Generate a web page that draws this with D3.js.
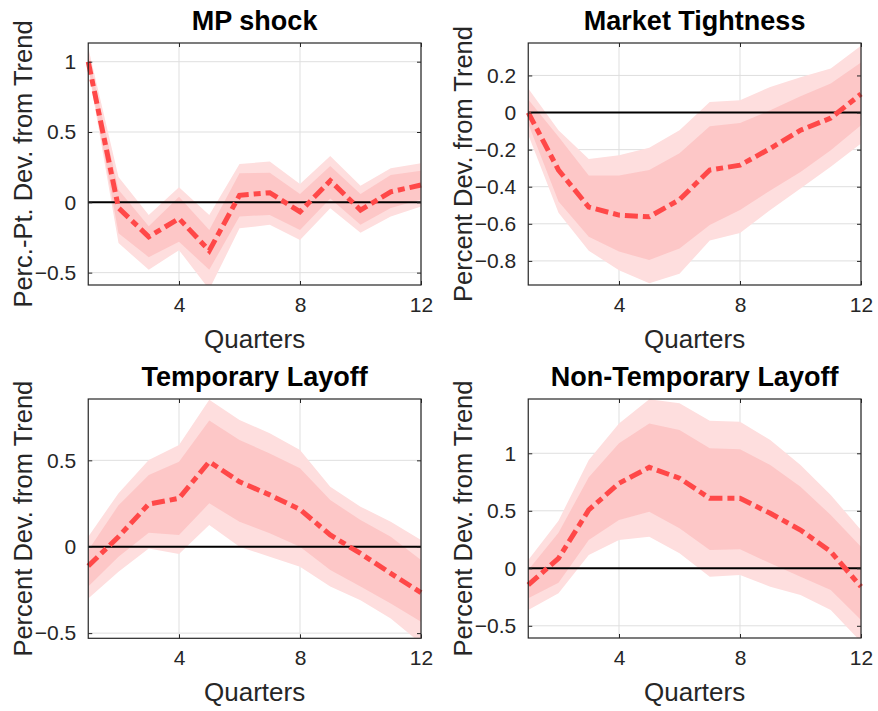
<!DOCTYPE html>
<html>
<head>
<meta charset="utf-8">
<script src="https://cdn.jsdelivr.net/npm/d3@7"></script>
<style>
  body { margin: 0; background: #fff; }
  text { font-family: "Liberation Sans", Arial, sans-serif; }
</style>
</head>
<body>
<svg id="fig" width="878" height="711"></svg>
<script>
// quarters after the shock
const quarters = [1, 2, 3, 4, 5, 6, 7, 8, 9, 10, 11, 12];
const xTicks = [4, 8, 12];

// MP shock
const mpMedian = [1.0, -0.04, -0.245, -0.115, -0.344, 0.05, 0.068, -0.067, 0.154, -0.055, 0.075, 0.123];
const mpHi90 = [1.1, 0.18, -0.09, 0.107, -0.09, 0.272, 0.29, 0.13, 0.33, 0.118, 0.242, 0.277];
const mpHi68 = [1.05, 0.09, -0.17, 0.04, -0.197, 0.206, 0.21, 0.06, 0.258, 0.059, 0.194, 0.225];
const mpLo68 = [0.97, -0.22, -0.39, -0.28, -0.48, -0.10, -0.09, -0.197, 0.028, -0.16, -0.04, 0.02];
const mpLo90 = [0.95, -0.29, -0.48, -0.34, -0.62, -0.185, -0.16, -0.268, -0.043, -0.216, -0.10, -0.03];

// Market Tightness
const mtMedian = [0.0, -0.31, -0.51, -0.553, -0.562, -0.47, -0.31, -0.284, -0.194, -0.095, -0.03, 0.10];
const mtHi90 = [0.13, -0.095, -0.25, -0.23, -0.19, -0.095, 0.057, 0.066, 0.138, 0.19, 0.237, 0.36];
const mtHi68 = [0.07, -0.13, -0.34, -0.34, -0.31, -0.22, -0.074, -0.056, 0.012, 0.088, 0.156, 0.27];
const mtLo68 = [-0.06, -0.48, -0.67, -0.75, -0.795, -0.733, -0.607, -0.526, -0.42, -0.32, -0.203, -0.068];
const mtLo90 = [-0.12, -0.54, -0.745, -0.85, -0.92, -0.87, -0.69, -0.65, -0.526, -0.41, -0.293, -0.167];

// Temporary Layoff
const tlMedian = [-0.112, 0.058, 0.247, 0.28, 0.492, 0.376, 0.30, 0.216, 0.068, -0.039, -0.154, -0.266];
const tlHi90 = [0.058, 0.31, 0.502, 0.589, 0.85, 0.734, 0.657, 0.56, 0.347, 0.232, 0.145, 0.039];
const tlHi68 = [-0.02, 0.24, 0.415, 0.492, 0.73, 0.618, 0.54, 0.454, 0.27, 0.155, 0.058, -0.077];
const tlLo68 = [-0.23, -0.058, 0.081, 0.068, 0.251, 0.145, 0.078, 0.0, -0.135, -0.23, -0.328, -0.434];
const tlLo90 = [-0.30, -0.145, -0.01, -0.042, 0.126, 0.0, -0.058, -0.116, -0.23, -0.31, -0.415, -0.56];

// Non-Temporary Layoff
const ntMedian = [-0.145, 0.087, 0.507, 0.739, 0.878, 0.783, 0.609, 0.609, 0.478, 0.333, 0.145, -0.16];
const ntHi90 = [0.072, 0.414, 0.942, 1.26, 1.47, 1.435, 1.283, 1.275, 1.116, 0.898, 0.637, 0.333];
const ntHi68 = [-0.015, 0.31, 0.791, 1.087, 1.26, 1.203, 1.043, 1.035, 0.898, 0.71, 0.463, 0.188];
const ntLo68 = [-0.26, -0.125, 0.246, 0.42, 0.492, 0.348, 0.159, 0.165, 0.043, -0.073, -0.189, -0.45];
const ntLo90 = [-0.362, -0.217, 0.116, 0.246, 0.275, 0.13, -0.073, -0.058, -0.16, -0.232, -0.363, -0.64];

const panels = [
  { title: "MP shock", ylabel: "Perc.-Pt. Dev. from Trend", med: mpMedian, hi90: mpHi90, hi68: mpHi68, lo68: mpLo68, lo90: mpLo90,
    ydom: [-0.588, 1.133], yticks: [-0.5, 0, 0.5, 1], box: [88.25, 43, 421, 285] },
  { title: "Market Tightness", ylabel: "Percent Dev. from Trend", med: mtMedian, hi90: mtHi90, hi68: mtHi68, lo68: mtLo68, lo90: mtLo90,
    ydom: [-0.93, 0.375], yticks: [-0.8, -0.6, -0.4, -0.2, 0, 0.2], box: [528.25, 43, 861, 285] },
  { title: "Temporary Layoff", ylabel: "Percent Dev. from Trend", med: tlMedian, hi90: tlHi90, hi68: tlHi68, lo68: tlLo68, lo90: tlLo90,
    ydom: [-0.53, 0.855], yticks: [-0.5, 0, 0.5], box: [88.25, 399, 421, 638.3] },
  { title: "Non-Temporary Layoff", ylabel: "Percent Dev. from Trend", med: ntMedian, hi90: ntHi90, hi68: ntHi68, lo68: ntLo68, lo90: ntLo90,
    ydom: [-0.606, 1.472], yticks: [-0.5, 0, 0.5, 1], box: [528.25, 399, 861, 638] }
];

const svg = d3.select("#fig");
const axisColor = "#262626";

panels.forEach((p, i) => {
  const [x0, y0, x1, y1] = p.box;
  const x = d3.scaleLinear().domain([1, 12]).range([x0, x1]);
  const y = d3.scaleLinear().domain(p.ydom).range([y1, y0]);
  const g = svg.append("g");

  g.append("clipPath").attr("id", "clip" + i)
    .append("rect").attr("x", x0).attr("y", y0).attr("width", x1 - x0).attr("height", y1 - y0);

  // grid
  g.selectAll(".gx").data(xTicks).join("line")
    .attr("x1", d => x(d)).attr("x2", d => x(d)).attr("y1", y0).attr("y2", y1)
    .attr("stroke", "#dfdfdf").attr("stroke-width", 1);
  g.selectAll(".gy").data(p.yticks).join("line")
    .attr("x1", x0).attr("x2", x1).attr("y1", d => y(d)).attr("y2", d => y(d))
    .attr("stroke", "#dfdfdf").attr("stroke-width", 1);

  const area = (lo, hi) => d3.area()
    .x((d, k) => x(quarters[k]))
    .y0((d, k) => y(lo[k]))
    .y1((d, k) => y(hi[k]));

  const bands = g.append("g").attr("clip-path", `url(#clip${i})`);
  bands.append("path").datum(quarters).attr("d", area(p.lo90, p.hi90)).attr("fill", "#fedede");
  bands.append("path").datum(quarters).attr("d", area(p.lo68, p.hi68)).attr("fill", "#fdc7c7");

  // zero line
  g.append("line").attr("x1", x0).attr("x2", x1).attr("y1", y(0)).attr("y2", y(0))
    .attr("stroke", "#000").attr("stroke-width", 2);

  // median response
  g.append("path").datum(p.med)
    .attr("d", d3.line().x((d, k) => x(quarters[k])).y(d => y(d)))
    .attr("fill", "none").attr("stroke", "#ff4848").attr("stroke-width", 5)
    .attr("stroke-dasharray", "13,5,7,5");

  // box and inner ticks
  g.append("rect").attr("x", x0).attr("y", y0).attr("width", x1 - x0).attr("height", y1 - y0)
    .attr("fill", "none").attr("stroke", axisColor).attr("stroke-width", 1.2);

  const xa = g.append("g").attr("transform", `translate(0,${y1})`)
    .call(d3.axisBottom(x).tickValues(xTicks).tickSizeInner(-4).tickSizeOuter(0).tickPadding(12));
  const ya = g.append("g").attr("transform", `translate(${x0},0)`)
    .call(d3.axisLeft(y).tickValues(p.yticks).tickSizeInner(-4).tickSizeOuter(0).tickPadding(12)
      .tickFormat(d => d3.format("")(Math.round(d * 10) / 10)));
  g.append("g").attr("transform", `translate(${x1},0)`)
    .call(d3.axisRight(y).tickValues(p.yticks).tickSizeInner(-4).tickSizeOuter(0).tickFormat(""));
  g.append("g").attr("transform", `translate(0,${y0})`)
    .call(d3.axisTop(x).tickValues(xTicks).tickSizeInner(-4).tickSizeOuter(0).tickFormat(""));
  g.selectAll(".domain").remove();
  g.selectAll(".tick line").attr("stroke", axisColor);
  [xa, ya].forEach(a => a.selectAll("text")
    .attr("fill", axisColor).style("font-size", "21px").style("font-family", "Liberation Sans, Arial, sans-serif"));

  const cx = (x0 + x1) / 2, cy = (y0 + y1) / 2;
  g.append("text").attr("x", cx).attr("y", y0 - 13).attr("text-anchor", "middle")
    .style("font-size", "27px").style("font-weight", "bold").attr("fill", "#000").text(p.title);
  g.append("text").attr("x", cx).attr("y", y1 + 63).attr("text-anchor", "middle")
    .style("font-size", "26px").attr("fill", axisColor).text("Quarters");
  g.append("text").attr("transform", `translate(${x0 - 56},${cy}) rotate(-90)`).attr("text-anchor", "middle")
    .style("font-size", "25.5px").attr("fill", axisColor).text(p.ylabel);
});
</script>
</body>
</html>
